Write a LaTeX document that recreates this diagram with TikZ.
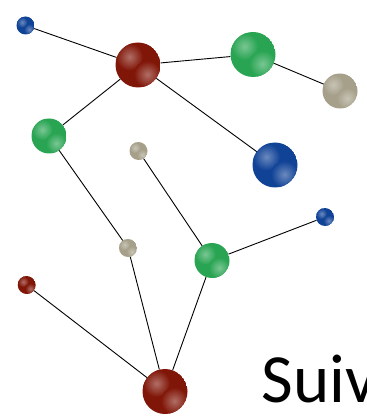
\documentclass[tikz,border=0pt]{standalone}
\usepackage{fontspec}
\setmainfont{Carlito}
\definecolor{cred}{RGB}{128,22,8}
\definecolor{cgreen}{RGB}{40,164,82}
\definecolor{cblue}{RGB}{16,66,150}
\definecolor{ctan}{RGB}{166,160,138}
\tikzset{
  ball/.style 2 args={circle, inner sep=0pt, minimum size=2*#2 pt,
    path picture={
      \fill[#1] (path picture bounding box.center) circle (#2 pt);
      \shade[inner color=#1!62!white, outer color=#1]
        ([shift={(-0.38*#2 pt,0.36*#2 pt)}]path picture bounding box.center) circle (0.6*#2 pt);
      \shade[inner color=#1!62!white, outer color=#1]
        ([shift={(0.42*#2 pt,-0.42*#2 pt)}]path picture bounding box.center) circle (0.6*#2 pt);
    }},
  big/.style={ball={#1}{22.5}},
  mid/.style={ball={#1}{17.5}},
  small/.style={ball={#1}{9}},
  link/.style={draw=black, line width=0.9pt},
}
\begin{document}
\begin{tikzpicture}[x=1pt,y=-1pt]
\useasboundingbox (0,0) rectangle (366,419);
\clip (0,0) rectangle (366,419);
\node[small=cblue] (b1) at (25.5,25.5) {};
\node[big=cred] (r1) at (138,65) {};
\node[big=cgreen] (g1) at (253,54.5) {};
\node[mid=ctan] (t1) at (340,91) {};
\node[mid=cgreen] (g2) at (49,136) {};
\node[small=ctan] (t2) at (138.5,151) {};
\node[big=cblue] (b2) at (275,165) {};
\node[small=cblue] (b3) at (325,217) {};
\node[small=ctan] (t3) at (128,248) {};
\node[mid=cgreen] (g3) at (212,260.5) {};
\node[small=cred] (r2) at (26.7,285) {};
\node[big=cred] (r3) at (165,391.5) {};
\draw[link] (b1) -- (r1);
\draw[link] (r1) -- (g1);
\draw[link] (g1) -- (t1);
\draw[link] (r1) -- (g2);
\draw[link] (r1) -- (b2);
\draw[link] (g2) -- (t3);
\draw[link] (t2) -- (g3);
\draw[link] (g3) -- (b3);
\draw[link] (t3) -- (r3);
\draw[link] (g3) -- (r3);
\draw[link] (r2) -- (r3);
\node[anchor=base west, inner sep=0pt, font=\fontsize{69}{80}\selectfont] (txt) at (261.5,402.5) {Suiv};
\end{tikzpicture}
\end{document}
